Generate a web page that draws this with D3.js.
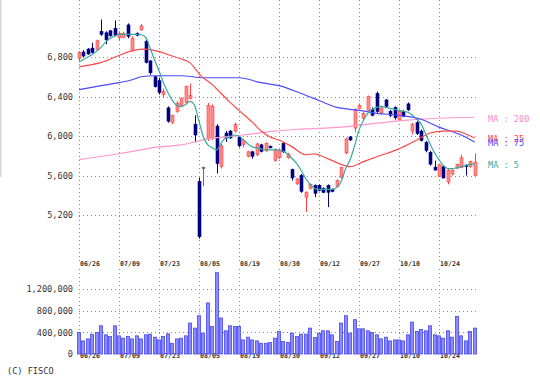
<!DOCTYPE html>
<html><head><meta charset="utf-8">
<script src="https://cdn.jsdelivr.net/npm/d3@7"></script>
<style>html,body{margin:0;padding:0;background:#fff;}svg{display:block;}</style>
</head><body>
<svg id="c" width="540" height="380"></svg>
<script>
// ---- data ----
const days = ["06/26","06/27","06/28","07/01","07/02","07/03","07/04","07/05","07/08","07/09",
"07/10","07/11","07/12","07/16","07/17","07/18","07/19","07/22","07/23","07/24",
"07/25","07/26","07/29","07/30","07/31","08/01","08/02","08/05","08/06","08/07",
"08/08","08/09","08/13","08/14","08/15","08/16","08/19","08/20","08/21","08/22",
"08/23","08/26","08/27","08/28","08/29","08/30","09/02","09/03","09/04","09/05",
"09/06","09/09","09/10","09/11","09/12","09/13","09/17","09/18","09/19","09/20",
"09/24","09/25","09/26","09/27","09/30","10/01","10/02","10/03","10/04","10/07",
"10/08","10/09","10/10","10/11","10/15","10/16","10/17","10/18","10/21","10/22",
"10/23","10/24","10/25","10/28","10/29","10/30","10/31","11/01","11/05","11/06"];
const tickDates = ["06/26","07/09","07/23","08/05","08/19","08/30","09/12","09/27","10/10","10/24"];
const priceTicks = [5200,5600,6000,6400,6800];
const volumeTicks = [0,400000,800000,1200000];

const open  = [6785,6850,6880,6890,6875,7060,7045,7065,7090,6995,7000,7125,6865,7040,7075,6960,6760,6600,6560,6420,
6285,6140,6250,6300,6340,6380,6120,5540,5680,5970,5980,6100,5690,6030,6050,6050,5990,5915,5795,5840,
5810,5910,5850,5895,5750,5780,5925,5780,5660,5515,5600,5380,5470,5500,5500,5470,5500,5460,5490,5580,
5830,5990,6080,6280,6180,6260,6270,6430,6235,6365,6250,6290,6165,6250,6325,6050,6135,6050,5935,5835,
5685,5590,5690,5535,5615,5675,5680,5705,5690,5600];
const high  = [6860,6870,6890,6945,6975,7180,7060,7075,7170,7060,7055,7140,7010,7050,7135,6970,6770,6610,6590,6480,
6300,6215,6350,6390,6510,6530,6210,5580,5690,6335,6320,6120,5920,6050,6060,6135,6000,5965,5850,5850,
5930,5920,5935,5905,5875,5865,5935,5830,5670,5575,5615,5440,5520,5510,5510,5480,5510,5470,5560,5690,
5985,6000,6280,6330,6240,6410,6290,6450,6290,6375,6265,6300,6265,6265,6340,6135,6150,6065,5950,5850,
5750,5720,5700,5665,5660,5720,5810,5715,5750,5825];
const low   = [6760,6800,6825,6835,6865,7015,6930,7005,7010,6970,6990,6990,6855,7010,7065,6735,6620,6490,6420,6390,
6135,6120,6235,6290,6330,6370,5935,4960,5490,5950,5960,5620,5670,5940,5970,6035,5885,5885,5785,5770,
5795,5835,5840,5875,5740,5765,5830,5770,5550,5505,5425,5230,5460,5380,5440,5420,5280,5430,5480,5570,
5815,5950,6040,6270,6160,6250,6200,6235,6220,6285,6190,6165,6150,6190,6255,6015,6010,5945,5835,5700,
5650,5585,5570,5510,5600,5665,5675,5600,5680,5585];
const close = [6845,6810,6830,6845,6965,7030,6975,7015,7020,7040,7040,7010,6990,7020,7115,6745,6640,6500,6440,6450,
6150,6210,6330,6380,6500,6410,6010,4980,5680,6310,6300,5720,5900,5980,5980,6115,5900,5955,5840,5795,
5920,5845,5925,5880,5860,5855,5840,5815,5575,5565,5440,5430,5510,5420,5450,5430,5430,5440,5550,5680,
5970,5960,6270,6310,6230,6400,6210,6250,6285,6300,6210,6185,6250,6200,6265,6115,6025,5955,5855,5715,
5655,5710,5575,5650,5655,5710,5780,5690,5740,5735];
const volume = [396000,242000,279000,366000,396000,521000,354000,322000,521000,335000,
292000,322000,279000,335000,279000,354000,366000,310000,260000,322000,
372000,198000,279000,292000,335000,571000,478000,707000,385000,943000,
508000,1501000,664000,428000,521000,508000,508000,260000,310000,260000,
242000,198000,198000,211000,292000,415000,229000,211000,385000,322000,
366000,366000,478000,304000,385000,428000,428000,354000,229000,571000,
707000,385000,633000,465000,465000,428000,396000,354000,279000,310000,
242000,260000,260000,242000,354000,589000,415000,453000,428000,521000,
354000,335000,292000,428000,310000,695000,335000,242000,415000,478000];

// moving averages: [day index, value]
const ma5 = [6750,6775,6800,6825,6860,6900,6950,6990,7010,7030,7030,7030,7030,7030,7025,7000,6890,6770,6660,6540,
6440,6360,6310,6300,6320,6350,6310,6150,5990,5910,5880,5860,5930,5980,5990,6010,6000,5960,5920,5890,
5880,5870,5860,5860,5860,5860,5845,5815,5770,5720,5650,5570,5510,5470,5460,5460,5460,5460,5480,5540,
5670,5760,5900,6060,6160,6230,6270,6290,6300,6290,6280,6270,6260,6250,6240,6210,6170,6120,6020,5920,
5830,5760,5700,5670,5670,5680,5690,5700,5710,5720];
const ma25 = [[0,6700],[5,6745],[9,6815],[12,6865],[15,6880],[18,6855],[21,6810],[23,6780],[25,6740],[26,6690],
[27,6630],[30,6520],[32,6430],[34,6340],[36,6260],[39,6140],[41,6050],[43,5990],[45,5960],[48,5890],
[51,5810],[53,5820],[55,5790],[58,5730],[61,5690],[64,5740],[67,5790],[72,5870],[76,5960],[79,6030],
[82,6050],[85,6050],[87,6020],[89,5980]];
const ma75 = [[0,6470],[5,6510],[9,6540],[12,6570],[14,6600],[17,6610],[23,6610],[28,6590],[36,6590],[41,6540],
[45,6510],[50,6430],[54,6360],[58,6290],[61,6270],[63,6260],[67,6230],[72,6210],[77,6170],[81,6090],
[86,6010],[89,5940]];
const ma200 = [[0,5760],[9,5820],[18,5890],[23,5910],[29,5970],[37,6010],[44,6050],[50,6070],[59,6090],[67,6130],
[74,6160],[81,6180],[89,6190]];
const maLabels = ["MA : 200","MA : 25","MA : 75","MA : 5"];

// ---- drawing ----
const svg = d3.select("#c");
const FONT = "'DejaVu Sans Mono', monospace";
const left = 79, right = 478;
const x = d3.scalePoint().domain(days).range([79, 79 + 89 * 40 / 9]);
const y = d3.scaleLinear().domain([5200, 6800]).range([215, 57]);
const yv = d3.scaleLinear().domain([0, 1200000]).range([354, 289]);

svg.append("rect").attr("x",0).attr("y",0).attr("width",1.5).attr("height",177).attr("fill","#d4d4dc");

const grid = svg.append("g").attr("stroke","#8a8a8a").attr("stroke-width",1).attr("stroke-dasharray","1,3");
// horizontal grid
grid.selectAll(".hp").data(priceTicks).join("line")
  .attr("x1",left).attr("x2",right).attr("y1",d=>Math.round(y(d))+0.5).attr("y2",d=>Math.round(y(d))+0.5);
grid.selectAll(".hv").data(volumeTicks.filter(v=>v>0)).join("line")
  .attr("x1",left).attr("x2",right).attr("y1",d=>Math.round(yv(d))+0.5).attr("y2",d=>Math.round(yv(d))+0.5);
// vertical grid
grid.selectAll(".vp").data(tickDates).join("line")
  .attr("x1",d=>Math.round(x(d))+0.5).attr("x2",d=>Math.round(x(d))+0.5).attr("y1",0).attr("y2",262);
grid.selectAll(".vv").data(tickDates).join("line")
  .attr("x1",d=>Math.round(x(d))+0.5).attr("x2",d=>Math.round(x(d))+0.5).attr("y1",269).attr("y2",354);

// axes labels
const pAxis = d3.axisLeft(y).tickValues(priceTicks).tickSize(0).tickPadding(6).tickFormat(d3.format(","));
const ga = svg.append("g").attr("transform",`translate(${left},0)`).call(pAxis);
const vAxis = d3.axisLeft(yv).tickValues(volumeTicks).tickSize(0).tickPadding(6).tickFormat(d3.format(","));
const gv = svg.append("g").attr("transform",`translate(${left},0)`).call(vAxis);
[ga,gv].forEach(g=>{g.select(".domain").remove();
  g.selectAll("text").attr("font-family",FONT).attr("font-size","8.6px").attr("fill","#333");});

const dAxisTop = d3.axisBottom(x).tickValues(tickDates).tickSize(0).tickPadding(0);
const dt1 = svg.append("g").attr("transform","translate(0,262)").call(dAxisTop);
const dt2 = svg.append("g").attr("transform","translate(0,354)").call(dAxisTop);
[dt1,dt2].forEach(g=>{g.select(".domain").remove();
  g.selectAll("text").attr("font-family",FONT).attr("font-size","6.6px").attr("font-weight","bold")
   .attr("fill","#333").attr("text-anchor","start").attr("dx","0.5").attr("dy","0.55em");});

// volume bars
const idx = d3.range(days.length);
svg.append("g").selectAll("rect").data(idx).join("rect")
  .attr("x",i=>Math.round(x(days[i]))-1.5).attr("width",3)
  .attr("y",i=>yv(volume[i])).attr("height",i=>yv(0)-yv(volume[i]))
  .attr("fill","#8c8cff").attr("stroke","#4646f0").attr("stroke-width",0.8);

// candles
const colorOf = i => close[i] > open[i] ? "#ff4040" : (close[i] < open[i] ? "#000080" : "#3c8c3c");
const cg = svg.append("g");
cg.selectAll("line").data(idx).join("line")
  .attr("x1",i=>Math.round(x(days[i]))+0.5).attr("x2",i=>Math.round(x(days[i]))+0.5)
  .attr("y1",i=>y(high[i])).attr("y2",i=>y(low[i]))
  .attr("stroke",colorOf).attr("stroke-width",1);
cg.selectAll("rect").data(idx).join("rect")
  .attr("x",i=>Math.round(x(days[i]))-1).attr("width",3)
  .attr("y",i=>y(Math.max(open[i],close[i])))
  .attr("height",i=>Math.max(1,Math.abs(y(open[i])-y(close[i]))))
  .attr("fill",i=>close[i] > open[i] ? "#ff8c8c" : colorOf(i))
  .attr("stroke",colorOf).attr("stroke-width",0.6);

// MA lines
const lineP = d3.line().x(d=>x(days[d[0]])).y(d=>y(d[1])).curve(d3.curveMonotoneX);
const maDefs = [
  {pts: ma200, color:"#ff99cc"},
  {pts: ma75, color:"#4a4aff"},
  {pts: ma25, color:"#ff4a4a"},
  {pts: ma5.map((v,i)=>[i,v]), color:"#3aa8a0"}
];
svg.append("g").selectAll("path").data(maDefs).join("path")
  .attr("d",d=>lineP(d.pts)).attr("fill","none").attr("stroke",d=>d.color).attr("stroke-width",1.2);

// MA legend texts at last values
const legend = [
  {t:maLabels[0], v:ma200[ma200.length-1][1], c:"#ff88c8"},
  {t:maLabels[1], v:ma25[ma25.length-1][1], c:"#ff4a4a"},
  {t:maLabels[2], v:ma75[ma75.length-1][1], c:"#4a4aff"},
  {t:maLabels[3], v:ma5[ma5.length-1], c:"#3aa8a0"}
];
svg.append("g").selectAll("text").data(legend).join("text")
  .attr("x",488).attr("y",d=>y(d.v)+1.5).attr("dy","0.35em")
  .attr("font-family",FONT).attr("font-size","8.6px").attr("fill",d=>d.c).text(d=>d.t);

svg.append("text").attr("x",7).attr("y",374).attr("font-family",FONT).attr("font-size","8.6px")
  .attr("fill","#333").text("(C) FISCO");
</script>
</body></html>
